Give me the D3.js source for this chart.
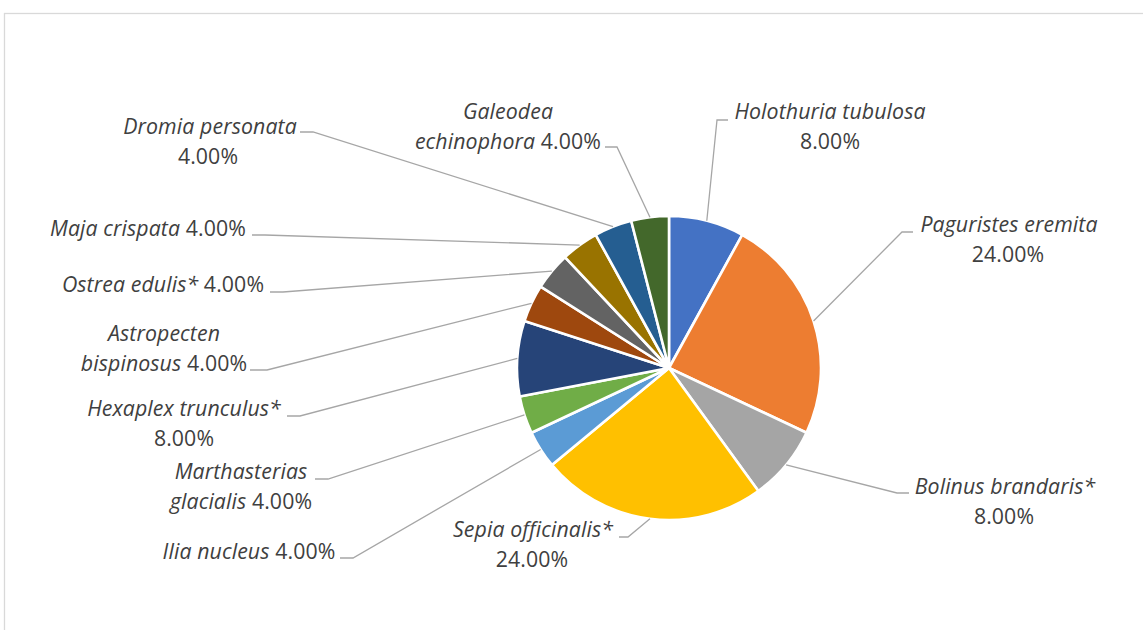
<!DOCTYPE html>
<html>
<head>
<meta charset="utf-8">
<script src="https://cdn.jsdelivr.net/npm/d3@7"></script>
<style>
  html, body { margin: 0; padding: 0; background: #fff; }
  svg { display: block; }
  text { font-family: "Open Sans", Lato, sans-serif; fill: #404040; }
</style>
</head>
<body>
<script>
// ---- data ----
const species = [
  "Holothuria tubulosa", "Paguristes eremita", "Bolinus brandaris*", "Sepia officinalis*",
  "Ilia nucleus", "Marthasterias glacialis", "Hexaplex trunculus*", "Astropecten bispinosus",
  "Ostrea edulis*", "Maja crispata", "Dromia personata", "Galeodea echinophora"
];
const shares = [8, 24, 8, 24, 4, 4, 8, 4, 4, 4, 4, 4];
const colors = [
  "#4472C4", "#ED7D31", "#A5A5A5", "#FFC000", "#5B9BD5", "#70AD47",
  "#264478", "#9E480E", "#636363", "#997300", "#255E91", "#43682B"
];

// ---- label layout (manual placement, as in the original) ----
// brk: number of word tokens on first line (null = single line)
const labelLayout = [
  { brk: 2, cx: [830, 830], y: 119, elbow: [717, 120], end: [728, 120] },
  { brk: 2, cx: [1009, 1008], y: 232, elbow: [902, 232], end: [913, 232] },
  { brk: 2, cx: [1005, 1004], y: 494, elbow: [897, 493], end: [909, 493] },
  { brk: 2, cx: [533, 532], y: 537, elbow: [628, 537], end: [619, 537] },
  { brk: null, cx: [249], y: 559, elbow: [353, 558], end: [340, 558] },
  { brk: 1, cx: [241, 241], y: 479, elbow: [328, 479], end: [315, 479] },
  { brk: 2, cx: [184, 184], y: 416, elbow: [300, 416], end: [287, 416] },
  { brk: 1, cx: [164, 164], y: 341, elbow: [267, 370], end: [250, 370] },
  { brk: null, cx: [163], y: 292, elbow: [283, 292], end: [270, 292] },
  { brk: null, cx: [148], y: 236, elbow: [265, 235], end: [252, 235] },
  { brk: 2, cx: [210, 208], y: 134, elbow: [313, 132], end: [300, 132] },
  { brk: 1, cx: [508, 508], y: 119, elbow: [617, 147], end: [605, 147] }
];

const W = 1143, H = 630;
const cx = 669, cy = 368, R = 152;
const lineH = 29.5;

const svg = d3.select("body").append("svg").attr("width", W).attr("height", H);

// chart frame
svg.append("rect")
  .attr("x", 4.5).attr("y", 13.5)
  .attr("width", W + 20).attr("height", H + 20)
  .attr("fill", "#fff").attr("stroke", "#d9d9d9").attr("stroke-width", 1.3);

const data = species.map((s, i) => ({ name: s, value: shares[i], color: colors[i], i }));

const pie = d3.pie().value(d => d.value).sort(null);
const arcs = pie(data);
const arc = d3.arc().innerRadius(0).outerRadius(R);

const g = svg.append("g").attr("transform", `translate(${cx},${cy})`);
g.selectAll("path.slice").data(arcs).join("path")
  .attr("class", "slice")
  .attr("d", arc)
  .attr("fill", d => d.data.color)
  .attr("stroke", "#fff")
  .attr("stroke-width", 2.6)
  .attr("stroke-linejoin", "round");

const fmt = d3.format(".2f");

// leader lines
svg.append("g").selectAll("polyline").data(arcs).join("polyline")
  .attr("fill", "none")
  .attr("stroke", "#a6a6a6")
  .attr("stroke-width", 1.3)
  .attr("points", d => {
    const L = labelLayout[d.index];
    const a = (d.startAngle + d.endAngle) / 2;
    const sx = cx + R * Math.sin(a), sy = cy - R * Math.cos(a);
    return [[sx, sy], L.elbow, L.end].map(p => p.join(",")).join(" ");
  });

// labels
const labG = svg.append("g").attr("font-size", 21.3).attr("letter-spacing", 0.1);
arcs.forEach(d => {
  const L = labelLayout[d.index];
  const tokens = d.data.name.split(" ").map(t => ({ t, it: true }));
  tokens.push({ t: fmt(d.data.value) + "%", it: false });
  const lines = L.brk == null ? [tokens] : [tokens.slice(0, L.brk), tokens.slice(L.brk)];
  lines.forEach((ln, li) => {
    const tx = labG.append("text")
      .attr("x", L.cx[li])
      .attr("y", L.y + li * lineH)
      .attr("text-anchor", "middle");
    ln.forEach((tok, k) => {
      tx.append("tspan")
        .attr("font-style", tok.it ? "italic" : "normal")
        .text((k > 0 ? " " : "") + tok.t);
    });
  });
});
</script>
</body>
</html>
